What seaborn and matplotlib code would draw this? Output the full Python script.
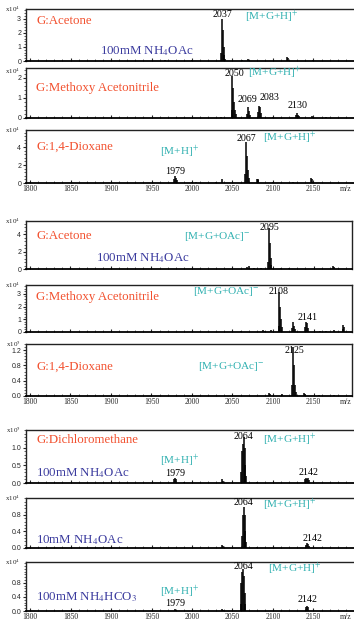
import numpy as np
import pandas as pd
import matplotlib.pyplot as plt
import seaborn as sns
from matplotlib.ticker import FixedLocator, MultipleLocator, AutoMinorLocator, FormatStrFormatter

sns.set_style('ticks')
plt.rcParams['font.family'] = ['Liberation Serif', 'DejaVu Serif']
plt.rcParams['mathtext.fontset'] = 'stix'

W, H = 354, 619
RED = '#f2502e'
BLUE = '#3b3b9e'
TEAL = '#2fb0b0'

x_ticks = [1800, 1850, 1900, 1950, 2000, 2050, 2100, 2150]

# peak lists (m/z, relative intensity in the panel's unit)
acetone_pos_mz = [1967, 2000, 2036, 2037, 2038, 2039, 2040, 2041, 2062, 2069, 2070, 2117, 2118, 2150]
acetone_pos_int = [0.1, 0.05, 0.6, 3.0, 2.2, 1.0, 0.4, 0.15, 0.05, 0.15, 0.1, 0.25, 0.2, 0.05]

methoxy_pos_mz = [2036, 2049, 2050, 2051, 2052, 2053, 2054, 2068, 2069, 2070, 2071,
                  2082, 2083, 2084, 2085, 2100, 2129, 2130, 2131, 2132, 2148, 2149, 2165]
methoxy_pos_int = [0.05, 0.4, 2.1, 1.5, 0.8, 0.4, 0.2, 0.2, 0.55, 0.35, 0.15,
                   0.3, 0.6, 0.55, 0.25, 0.05, 0.15, 0.25, 0.15, 0.08, 0.08, 0.06, 0.07]

dioxane_pos_mz = [1978, 1979, 1980, 1981, 2000, 2005, 2030, 2037, 2066, 2067, 2068, 2069, 2070,
                  2080, 2081, 2082, 2100, 2125, 2147, 2148]
dioxane_pos_int = [0.4, 0.8, 0.6, 0.3, 0.15, 0.1, 0.1, 0.4, 1.0, 4.6, 3.0, 1.5, 0.6,
                   0.5, 0.45, 0.3, 0.1, 0.1, 0.6, 0.4]

acetone_neg_mz = [2068, 2070, 2077, 2085, 2094, 2095, 2096, 2097, 2098, 2110, 2120, 2174, 2175]
acetone_neg_int = [0.25, 0.3, 0.15, 0.1, 0.8, 4.7, 3.0, 1.3, 0.5, 0.1, 0.08, 0.35, 0.25]

methoxy_neg_mz = [2060, 2088, 2090, 2097, 2107, 2108, 2109, 2110, 2111, 2124, 2125, 2126, 2127,
                  2140, 2141, 2142, 2143, 2158, 2165, 2175, 2186, 2187, 2188]
methoxy_neg_int = [0.05, 0.12, 0.1, 0.12, 0.5, 3.15, 2.0, 1.0, 0.4, 0.3, 0.8, 0.5, 0.2,
                   0.4, 0.8, 0.7, 0.35, 0.1, 0.08, 0.15, 0.2, 0.55, 0.4]

dioxane_neg_mz = [2095, 2096, 2111, 2124, 2125, 2126, 2127, 2128, 2138, 2139, 2157, 2175]
dioxane_neg_int = [0.08, 0.05, 0.05, 0.3, 1.28, 0.8, 0.3, 0.1, 0.07, 0.06, 0.03, 0.03]

dcm_100_mz = [1978, 1979, 1980, 1990, 2037, 2038, 2061, 2062, 2063, 2064, 2065, 2066, 2067,
              2080, 2140, 2141, 2142, 2143, 2144]
dcm_100_int = [0.1, 0.15, 0.12, 0.03, 0.1, 0.05, 0.3, 0.9, 1.1, 1.3, 1.0, 0.5, 0.2,
               0.03, 0.1, 0.15, 0.12, 0.15, 0.08]

dcm_10_mz = [2037, 2038, 2062, 2063, 2064, 2065, 2066, 2067, 2080, 2141, 2142, 2143, 2144]
dcm_10_int = [0.07, 0.04, 0.3, 0.8, 1.0, 0.8, 0.4, 0.15, 0.03, 0.08, 0.12, 0.1, 0.05]

dcm_hco3_mz = [1979, 1980, 2037, 2038, 2060, 2061, 2062, 2063, 2064, 2065, 2066, 2141, 2142, 2143]
dcm_hco3_int = [0.05, 0.04, 0.05, 0.04, 0.2, 0.8, 1.1, 1.2, 1.0, 0.5, 0.2, 0.1, 0.15, 0.1]

MZ0, PX0, PXU = 1800, 30, 0.81   # pixel mapping of the m/z axis


def mz_at(px):
    return MZ0 + (px - PX0) / PXU


panels = [
    dict(top=9, bottom=61, right=356, ymax=3.7, yticks=[0, 1, 2, 3], fmt='%d', exp='4', exp_dy=0,
         mz=acetone_pos_mz, inten=acetone_pos_int, xlabels=False,
         texts=[(1808, 2.86, 'G:Acetone', RED, 9.3, 'left'),
                (1886, 0.71, '100mM NH$_4$OAc', BLUE, 9.3, 'left'),
                (2037, 3.3, '2037', 'black', 7.2, 'center'),
                (2065, 3.15, '[M+G+H]$^{+}$', TEAL, 8.1, 'left')]),
    dict(top=68, bottom=118, right=356, ymax=2.5, yticks=[0, 1, 2], fmt='%d', exp='4', exp_dy=3,
         mz=methoxy_pos_mz, inten=methoxy_pos_int, xlabels=False,
         texts=[(1807, 1.5, 'G:Methoxy Acetonitrile', RED, 9.3, 'left'),
                (2052, 2.25, '2050', 'black', 7.2, 'center'),
                (2069, 2.25, '[M+G+H]$^{+}$', TEAL, 8.1, 'left'),
                (2068, 0.9, '2069', 'black', 7.2, 'center'),
                (2096, 1.0, '2083', 'black', 7.2, 'center'),
                (2130, 0.6, '2130', 'black', 7.2, 'center')]),
    dict(top=130, bottom=183, right=356, ymax=5.9, yticks=[0, 2, 4], fmt='%d', exp='4', exp_dy=0,
         mz=dioxane_pos_mz, inten=dioxane_pos_int, xlabels=True,
         texts=[(1808, 4.0, 'G:1,4-Dioxane', RED, 9.3, 'left'),
                (1960, 3.45, '[M+H]$^{+}$', TEAL, 8.1, 'left'),
                (1979, 1.33, '1979', 'black', 7.2, 'center'),
                (2067, 5.0, '2067', 'black', 7.2, 'center'),
                (2088, 5.0, '[M+G+H]$^{+}$', TEAL, 8.1, 'left')]),
    dict(top=221, bottom=269, right=352, ymax=5.5, yticks=[0, 2, 4], fmt='%d', exp='4', exp_dy=0,
         mz=acetone_neg_mz, inten=acetone_neg_int, xlabels=False,
         texts=[(1808, 3.77, 'G:Acetone', RED, 9.3, 'left'),
                (1881, 1.26, '100mM NH$_4$OAc', BLUE, 9.3, 'left'),
                (2095, 4.8, '2095', 'black', 7.2, 'center'),
                (1990, 3.77, '[M+G+OAc]$^{-}$', TEAL, 8.1, 'left')]),
    dict(top=285, bottom=332, right=352, ymax=3.7, yticks=[0, 1, 2, 3], fmt='%d', exp='4', exp_dy=0,
         mz=methoxy_neg_mz, inten=methoxy_neg_int, xlabels=False,
         texts=[(1807, 2.76, 'G:Methoxy Acetonitrile', RED, 9.3, 'left'),
                (2001, 3.15, '[M+G+OAc]$^{-}$', TEAL, 8.1, 'left'),
                (2107, 3.15, '2108', 'black', 7.2, 'center'),
                (2143, 1.18, '2141', 'black', 7.2, 'center')]),
    dict(top=344, bottom=396, right=352, ymax=1.36, yticks=[0.0, 0.4, 0.8, 1.2], fmt='%.1f', exp='5',
         exp_dy=0, mz=dioxane_neg_mz, inten=dioxane_neg_int, xlabels=True,
         texts=[(1808, 0.76, 'G:1,4-Dioxane', RED, 9.3, 'left'),
                (2007, 0.76, '[M+G+OAc]$^{-}$', TEAL, 8.1, 'left'),
                (2126, 1.2, '2125', 'black', 7.2, 'center')]),
    dict(top=430, bottom=483, right=356, ymax=1.5, yticks=[0.0, 0.5, 1.0], fmt='%.1f', exp='5', exp_dy=0,
         mz=dcm_100_mz, inten=dcm_100_int, xlabels=False,
         texts=[(1808, 1.23, 'G:Dichloromethane', RED, 9.3, 'left'),
                (1808, 0.29, '100mM NH$_4$OAc', BLUE, 9.3, 'left'),
                (1961, 0.62, '[M+H]$^{+}$', TEAL, 8.1, 'left'),
                (1979, 0.26, '1979', 'black', 7.2, 'center'),
                (2064, 1.31, '2064', 'black', 7.2, 'center'),
                (2088, 1.23, '[M+G+H]$^{+}$', TEAL, 8.1, 'left'),
                (2144, 0.31, '2142', 'black', 7.2, 'center')]),
    dict(top=498, bottom=548, right=356, ymax=1.21, yticks=[0.0, 0.4, 0.8], fmt='%.1f', exp='4', exp_dy=0,
         mz=dcm_10_mz, inten=dcm_10_int, xlabels=False,
         texts=[(1808, 0.18, '10mM NH$_4$OAc', BLUE, 9.3, 'left'),
                (2064, 1.09, '2064', 'black', 7.2, 'center'),
                (2088, 1.04, '[M+G+H]$^{+}$', TEAL, 8.1, 'left'),
                (2149, 0.24, '2142', 'black', 7.2, 'center')]),
    dict(top=562, bottom=611, right=356, ymax=1.39, yticks=[0.0, 0.4, 0.8], fmt='%.1f', exp='4', exp_dy=0,
         mz=dcm_hco3_mz, inten=dcm_hco3_int, xlabels=True,
         texts=[(1808, 0.39, '100mM NH$_4$HCO$_3$', BLUE, 9.3, 'left'),
                (1961, 0.54, '[M+H]$^{+}$', TEAL, 8.1, 'left'),
                (1979, 0.21, '1979', 'black', 7.2, 'center'),
                (2064, 1.27, '2064', 'black', 7.2, 'center'),
                (2094, 1.2, '[M+G+H]$^{+}$', TEAL, 8.1, 'left'),
                (2143, 0.33, '2142', 'black', 7.2, 'center')]),
]

fig = plt.figure(figsize=(W / 100, H / 100), dpi=100)

for p in panels:
    ax = fig.add_axes([26 / W, 1 - p['bottom'] / H, (p['right'] - 26) / W, (p['bottom'] - p['top']) / H])
    ax.vlines(p['mz'], 0, p['inten'], color='black', lw=1.1)
    ax.set_xlim(mz_at(26), mz_at(p['right']))
    ax.set_ylim(0, p['ymax'])
    ax.set_yticks(p['yticks'])
    ax.yaxis.set_major_formatter(FormatStrFormatter(p['fmt']))
    ax.yaxis.set_minor_locator(AutoMinorLocator(5))
    ax.xaxis.set_major_locator(FixedLocator(x_ticks))
    ax.xaxis.set_minor_locator(MultipleLocator(10))
    ax.tick_params(axis='y', which='major', direction='out', length=2.5, width=0.8, pad=1,
                   labelsize=5, labelfontfamily='Liberation Sans')
    ax.tick_params(axis='y', which='minor', direction='out', length=1.3, width=0.5)
    ax.tick_params(axis='x', which='major', direction='in', length=2.5, width=0.8, pad=1.5,
                   labelsize=5.5, labelbottom=p['xlabels'])
    ax.tick_params(axis='x', which='minor', direction='in', length=1.3, width=0.5)
    for s in ax.spines.values():
        s.set_linewidth(1.0)
        s.set_color('#222222')
    ax.spines['bottom'].set_linewidth(1.3)
    ax.spines['bottom'].set_color('black')
    for x, y, t, c, fs, ha in p['texts']:
        ax.text(x, y, t, color=c, fontsize=fs, ha=ha, va='center')
    fig.text(13 / W, 1 - (p['top'] + p['exp_dy']) / H, 'x10$^{%s}$' % p['exp'], fontsize=5,
             ha='center', va='center')
    if p['xlabels']:
        fig.text(340 / W, 1 - (p['bottom'] + 6) / H, 'm/z', fontsize=5.5, ha='left', va='center')

fig.savefig('out.png', dpi=100)
